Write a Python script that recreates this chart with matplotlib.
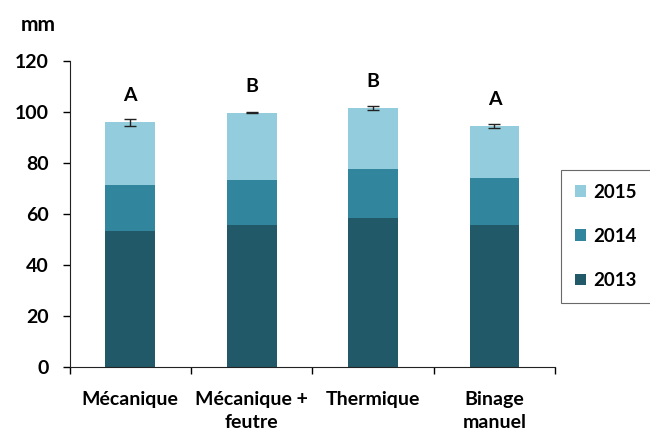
import matplotlib.pyplot as plt
import numpy as np

plt.rcParams['font.family'] = ['Lato', 'DejaVu Sans']

categories = ['Mécanique', 'Mécanique +\nfeutre', 'Thermique', 'Binage\nmanuel']
y2013 = [53.2, 55.9, 58.6, 55.9]
y2014 = [18.3, 17.6, 19.2, 18.4]
y2015 = [24.5, 26.2, 23.8, 20.3]
errors = [1.3, 0.2, 0.6, 0.8]
letters = ['A', 'B', 'B', 'A']

colors = {'2013': '#215968', '2014': '#31859c', '2015': '#93cddd'}

fig = plt.figure(figsize=(6.5, 4.33), dpi=100)
ax = fig.add_axes([0.107, 0.152, 0.747, 0.707])

x = np.arange(len(categories))
w = 0.41
b1 = ax.bar(x, y2013, w, color=colors['2013'], label='2013')
b2 = ax.bar(x, y2014, w, bottom=y2013, color=colors['2014'], label='2014')
bottom3 = np.array(y2013) + np.array(y2014)
b3 = ax.bar(x, y2015, w, bottom=bottom3, color=colors['2015'], label='2015')

totals = bottom3 + np.array(y2015)
ax.errorbar(x, totals, yerr=errors, fmt='none', ecolor='#222222',
            elinewidth=1, capsize=4, capthick=1)
for xi, t, lab in zip(x, totals, letters):
    ax.text(xi, t + 10.5, lab, ha='center', va='center', fontsize=14, fontweight='bold')

ax.set_xlim(-0.5, len(categories) - 0.5)
ax.set_ylim(0, 120)
ax.set_yticks(range(0, 121, 20))
ax.set_xticks(x)
ax.set_xticklabels(categories, fontsize=14, fontweight='bold', linespacing=1.45)
ax.set_xticks(np.arange(-0.5, len(categories)), minor=True)
ax.tick_params(axis='x', which='major', length=0, pad=17)
ax.tick_params(axis='x', which='minor', length=5, width=1)
ax.tick_params(axis='y', length=5, width=1, labelsize=14, pad=10)
for lab in ax.get_yticklabels():
    lab.set_fontweight('bold')
ax.spines['top'].set_visible(False)
ax.spines['right'].set_visible(False)
ax.spines['left'].set_color('#222222')
ax.spines['bottom'].set_color('#222222')

fig.text(0.032, 0.942, 'mm', fontsize=15, fontweight='bold', va='center')

leg = fig.legend([b3, b2, b1], ['2015', '2014', '2013'],
                 loc='center', bbox_to_anchor=(0.932, 0.454),
                 frameon=True, fancybox=False, edgecolor='#444444',
                 prop={'weight': 'bold', 'size': 13.5},
                 handlelength=0.6, handleheight=0.6, handletextpad=0.4,
                 labelspacing=1.45, borderpad=0.75, borderaxespad=0)
leg.get_frame().set_linewidth(0.8)

fig.savefig('out.png', dpi=100)
